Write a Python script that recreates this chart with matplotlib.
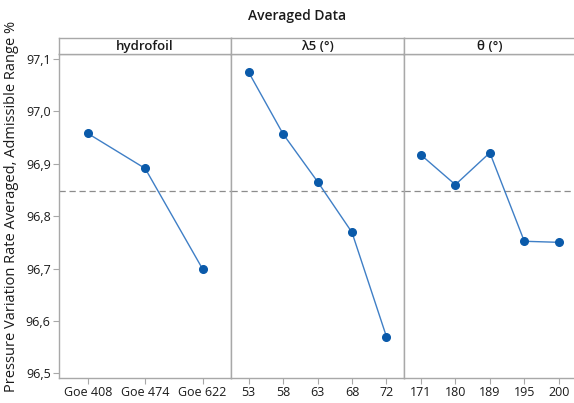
import matplotlib
matplotlib.use("Agg")
import matplotlib.pyplot as plt
from matplotlib.ticker import FuncFormatter

# Factor levels and mean responses
hydrofoil_levels = ["Goe 408", "Goe 474", "Goe 622"]
hydrofoil_means = [96.958, 96.891, 96.699]

lambda5_levels = ["53", "58", "63", "68", "72"]
lambda5_means = [97.075, 96.957, 96.866, 96.769, 96.570]

theta_levels = ["171", "180", "189", "195", "200"]
theta_means = [96.917, 96.860, 96.921, 96.752, 96.750]

grand_mean = 96.848
panel_titles = ["hydrofoil", "λ5 (°)", "θ (°)"]
y_ticks = [96.5, 96.6, 96.7, 96.8, 96.9, 97.0, 97.1]

plt.rcParams["font.family"] = ["Open Sans", "DejaVu Sans"]

W, H = 574, 403
fig = plt.figure(figsize=(W / 100, H / 100), dpi=100)

frame_col = "#a8a8a8"
line_col = "#3f7fc6"
marker_col = "#0a5aaa"
text_col = "#1a1a1a"

left_px, right_px = 59, 576
top_px, bottom_px = 54, 378
strip_top_px = 38
n_panels = 3
panel_w = (right_px - left_px) / n_panels

panels = [
    (hydrofoil_levels, hydrofoil_means),
    (lambda5_levels, lambda5_means),
    (theta_levels, theta_means),
]

for i, ((levels, means), title) in enumerate(zip(panels, panel_titles)):
    x0 = left_px + i * panel_w
    ax = fig.add_axes([x0 / W, 1 - bottom_px / H, panel_w / W, (bottom_px - top_px) / H])
    xs = list(range(1, len(levels) + 1))
    ax.axhline(grand_mean, color="#8c8c8c", lw=0.9, ls=(0, (5, 3)), zorder=1)
    ax.plot(xs, means, color=line_col, lw=1.0, zorder=2)
    ax.plot(xs, means, "o", color=marker_col, ms=5.5, zorder=3)
    ax.set_xlim(0.5, len(levels) + 0.5)
    ax.set_ylim(96.491, 97.1095)
    ax.set_xticks(xs)
    ax.set_xticklabels(levels)
    ax.set_yticks(y_ticks)
    ax.yaxis.set_major_formatter(FuncFormatter(lambda v, p: f"{v:.1f}".replace(".", ",")))
    ax.tick_params(axis="both", length=4, width=0.8, color=frame_col, labelsize=9,
                   labelcolor=text_col, pad=2)
    if i > 0:
        ax.tick_params(axis="y", left=False, labelleft=False)
    for s in ax.spines.values():
        s.set_color(frame_col)
        s.set_linewidth(1.0)
    if i == n_panels - 1:
        ax.spines["right"].set_visible(False)

    # strip header above each panel
    sax = fig.add_axes([x0 / W, 1 - top_px / H, panel_w / W, (top_px - strip_top_px) / H])
    sax.set_xticks([])
    sax.set_yticks([])
    for s in sax.spines.values():
        s.set_color(frame_col)
        s.set_linewidth(1.0)
    if i == n_panels - 1:
        sax.spines["right"].set_visible(False)
    sax.text(0.5, 0.45, title, ha="center", va="center", fontsize=9.5,
             fontweight="semibold", color=text_col, transform=sax.transAxes)

fig.text(297 / W, 1 - 16 / H, "Averaged Data", ha="center", va="center",
         fontsize=10, fontweight="semibold", color=text_col)
fig.text(12 / W, 1 - 206 / H, "Pressure Variation Rate Averaged, Admissible Range %",
         rotation=90, ha="center", va="center", fontsize=10.5, color=text_col)

fig.savefig("out.png", dpi=100, facecolor="white")
